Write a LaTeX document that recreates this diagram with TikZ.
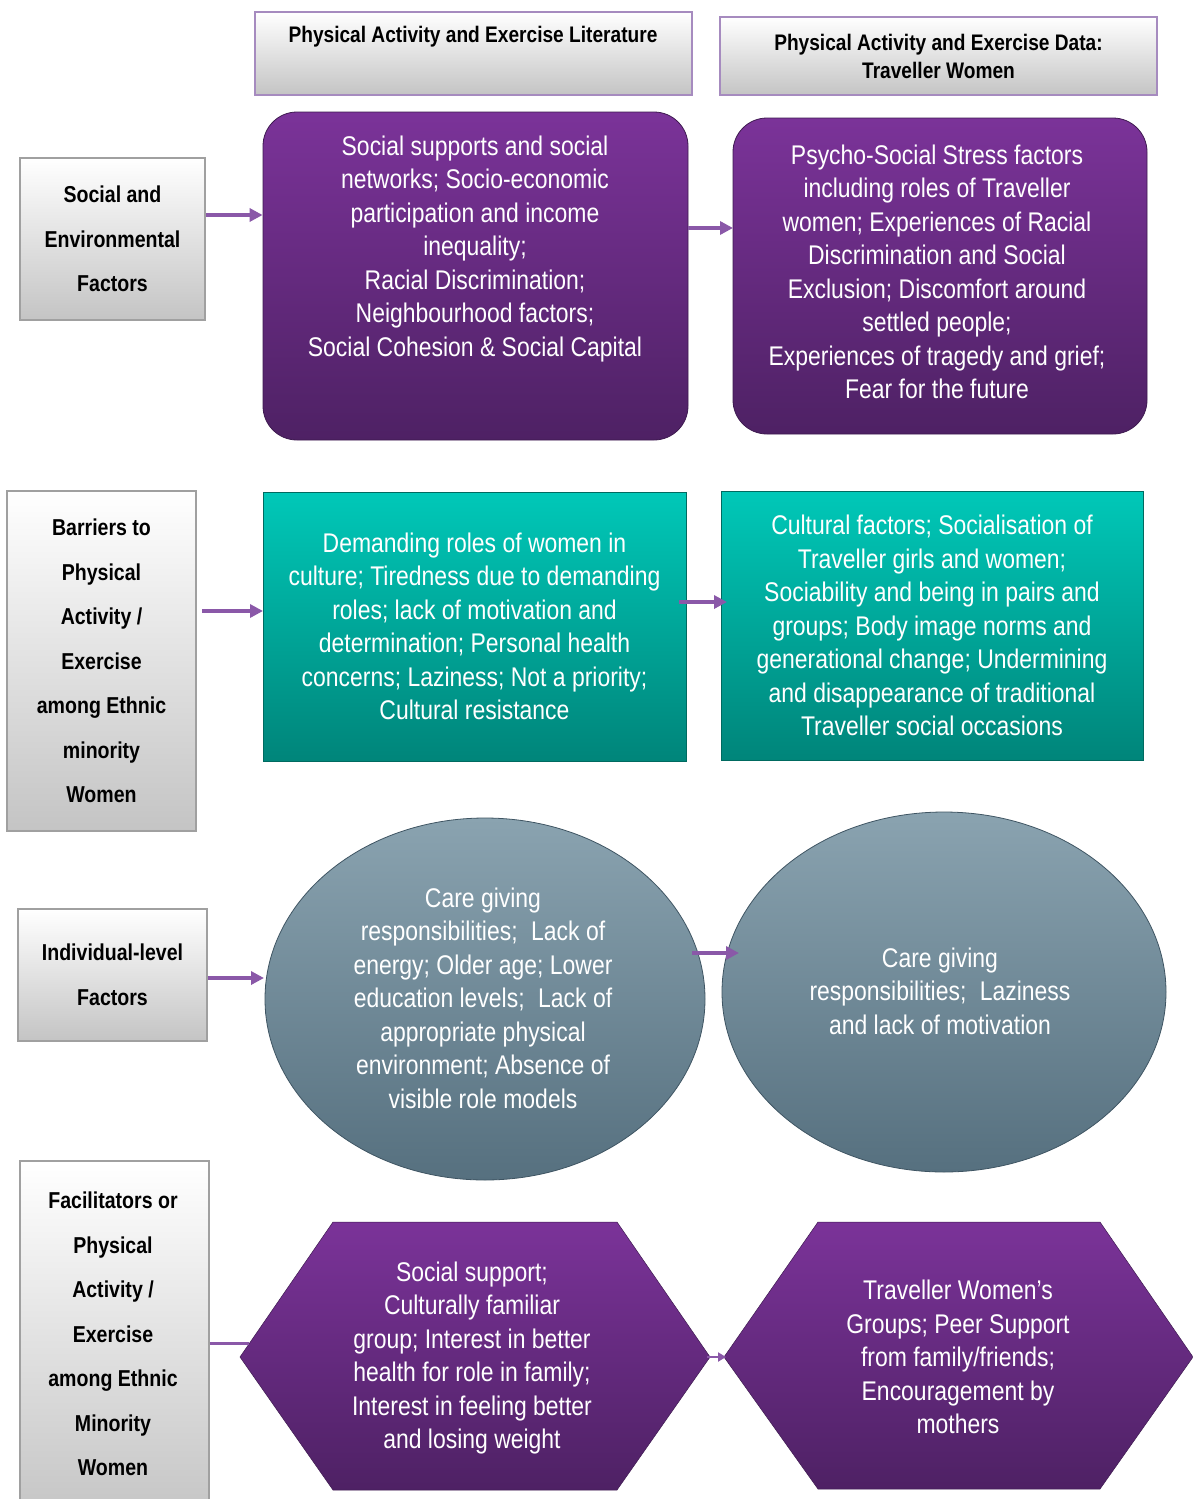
\documentclass[tikz,border=0pt]{standalone}
\usepackage{fontspec}
\setmainfont{Liberation Sans}[FakeStretch=0.85]
\usetikzlibrary{shapes.geometric,arrows.meta}
\definecolor{purpTop}{HTML}{7B3399}
\definecolor{purpBot}{HTML}{4E2164}
\definecolor{purpEdge}{HTML}{3E1A50}
\definecolor{tealTop}{HTML}{00C8B8}
\definecolor{tealBot}{HTML}{00857A}
\definecolor{tealEdge}{HTML}{006A60}
\definecolor{ovTop}{HTML}{8AA3B0}
\definecolor{ovBot}{HTML}{56707F}
\definecolor{ovEdge}{HTML}{3F5563}
\definecolor{grayBot}{HTML}{C4C4C4}
\definecolor{grayLine}{HTML}{A0A0A0}
\definecolor{hdrLine}{HTML}{A68BBF}
\definecolor{arrCol}{HTML}{8A58A8}
\newcommand\myWhiteFont{\fontsize{27}{33.5}\selectfont}
\newcommand\myLeftFont{\bfseries\fontsize{23}{44.5}\selectfont}
\newcommand\myHdrFont{\bfseries\fontsize{22.5}{28}\selectfont}
\begin{document}
\begin{tikzpicture}[x=1pt,y=-1pt,
  hdr/.style={draw=hdrLine, line width=2.5pt, top color=white, bottom color=grayBot, inner sep=0pt},
  hdrtext/.style={font=\myHdrFont, text=black, align=center, inner sep=0pt},
  leftbox/.style={draw=grayLine, line width=1.5pt, top color=white, bottom color=grayBot, inner sep=0pt, font=\myLeftFont, text=black, align=center},
  purplebox/.style={rounded corners=34pt, draw=purpEdge, line width=0.8pt, top color=purpTop, bottom color=purpBot, inner sep=0pt, font=\myWhiteFont, text=white, align=center},
  tealbox/.style={draw=tealEdge, line width=1pt, top color=tealTop, bottom color=tealBot, inner sep=0pt, font=\myWhiteFont, text=white, align=center},
  oval/.style={ellipse, draw=ovEdge, line width=0.8pt, top color=ovTop, bottom color=ovBot, inner sep=0pt, font=\myWhiteFont, text=white, align=center},
  hexshape/.style={draw=purpEdge, line width=0.5pt, top color=purpTop, bottom color=purpBot},
  whitetext/.style={font=\myWhiteFont, text=white, align=center, inner sep=0pt},
  arr/.style={draw=arrCol, line width=3.5pt, -{Triangle[length=13pt,width=13pt]}},
  plainline/.style={draw=arrCol, line width=3pt}
]
\useasboundingbox[fill=white] (0,0) rectangle (1193,1499);

% headers
\node[hdr, minimum width=437, minimum height=83] (h1) at (473.5,53.5) {};
\node[hdrtext] (h1t) at (473,37) {Physical Activity and Exercise Literature};
\node[hdr, minimum width=437, minimum height=78, hdrtext, draw=hdrLine, line width=2.5pt, top color=white, bottom color=grayBot] (h2) at (938.5,56) {Physical Activity and Exercise Data:\\Traveller Women};

% row 1
\node[leftbox, minimum width=185, minimum height=162] (l1) at (112.5,239) {Social and\\Environmental\\Factors};
\node[purplebox, minimum width=425, minimum height=328] (p1) at (475.5,276) {};
\node[whitetext] (p1t) at (475,249) {Social supports and social\\networks; Socio-economic\\participation and income\\inequality;\\Racial Discrimination;\\Neighbourhood factors;\\Social Cohesion \& Social Capital};
\node[purplebox, minimum width=414, minimum height=316] (p2) at (940,276) {};
\node[whitetext] (p2t) at (937,272) {Psycho-Social Stress factors\\including roles of Traveller\\women; Experiences of Racial\\Discrimination and Social\\Exclusion; Discomfort around\\settled people;\\Experiences of tragedy and grief;\\Fear for the future};

% row 2
\node[leftbox, minimum width=189, minimum height=340] (l2) at (101.5,661) {Barriers to\\Physical\\Activity /\\Exercise\\among Ethnic\\minority\\Women};
\node[tealbox, minimum width=423, minimum height=269] (t1) at (474.5,626.5) {Demanding roles of women in\\culture; Tiredness due to demanding\\roles; lack of motivation and\\determination; Personal health\\concerns; Laziness; Not a priority;\\Cultural resistance};
\node[tealbox, minimum width=422, minimum height=269] (t2) at (932,625.5) {Cultural factors; Socialisation of\\Traveller girls and women;\\Sociability and being in pairs and\\groups; Body image norms and\\generational change; Undermining\\and disappearance of traditional\\Traveller social occasions};

% row 3
\node[leftbox, minimum width=189, minimum height=132] (l3) at (112.5,975) {Individual-level\\Factors};
\node[oval, minimum width=440, minimum height=362] (e1) at (485,999) {};
\node[whitetext] (e1t) at (483,998) {Care giving\\responsibilities;\enspace Lack of\\energy; Older age; Lower\\education levels;\enspace Lack of\\appropriate physical\\environment; Absence of\\visible role models};
\node[oval, minimum width=444, minimum height=360] (e2) at (944,992) {};
\node[whitetext] (e2t) at (940,991) {Care giving\\responsibilities;\enspace Laziness\\and lack of motivation};

% row 4
\node[leftbox, minimum width=189, minimum height=360] (l4) at (114.5,1341) {};
\node[font=\myLeftFont, text=black, align=center, inner sep=0pt] (l4t) at (113,1334) {Facilitators or\\Physical\\Activity /\\Exercise\\among Ethnic\\Minority\\Women};

\path[hexshape] (240,1357) -- (333,1222) -- (617,1222) -- (710,1357) -- (617,1490) -- (333,1490) -- cycle;
\node[whitetext] (x1t) at (472,1358) {Social support;\\Culturally familiar\\group; Interest in better\\health for role in family;\\Interest in feeling better\\and losing weight};
\path[hexshape] (724,1357) -- (818,1222) -- (1100,1222) -- (1193,1357) -- (1100,1489) -- (818,1489) -- cycle;
\node[whitetext] (x2t) at (958,1357) {Traveller Women's\\Groups; Peer Support\\from family/friends;\\Encouragement by\\mothers};

% connectors
\coordinate (r1a) at (0,215);
\coordinate (r1b) at (0,228);
\draw[arr] (l1.east |- r1a) -- (p1.west |- r1a);
\coordinate (a2s) at (688,228);
\coordinate (a2e) at (733,228);
\draw[arr] (a2s) -- (a2e);

\coordinate (b1s) at (202,611);
\coordinate (b1e) at (263,611);
\draw[arr] (b1s) -- (b1e);
\coordinate (b2s) at (679,602);
\coordinate (b2e) at (727,602);
\draw[arr] (b2s) -- (b2e);

\coordinate (c1) at (0,978);
\draw[arr] (l3.east |- c1) -- (264,978);
\coordinate (c2s) at (692,953);
\coordinate (c2e) at (739,953);
\draw[arr] (c2s) -- (c2e);

\coordinate (d1) at (0,1343);
\coordinate (d1e) at (249,1343);
\draw[plainline] (l4.east |- d1) -- (d1e);
\coordinate (d2s) at (707,1357);
\coordinate (d2e) at (726,1357);
\draw[draw=arrCol, line width=2.5pt, -{Triangle[length=8pt,width=9pt]}] (d2s) -- (d2e);
\end{tikzpicture}
\end{document}
